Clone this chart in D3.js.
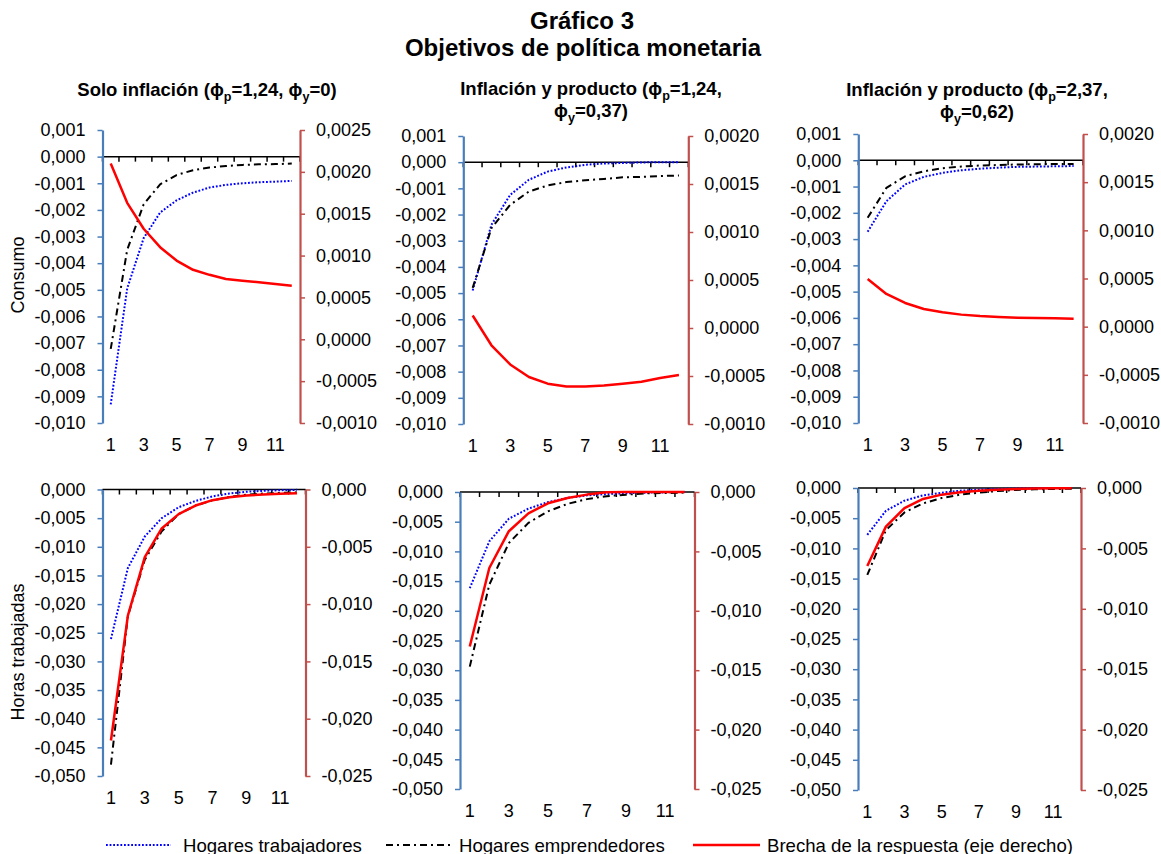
<!DOCTYPE html>
<html>
<head>
<meta charset="utf-8">
<script src="https://cdn.jsdelivr.net/npm/d3@7/dist/d3.min.js"></script>
<style>
  html, body { margin: 0; padding: 0; background: #ffffff; }
  svg { display: block; font-family: "Liberation Sans", Arial, sans-serif; }
</style>
</head>
<body>
<svg id="chart" width="1161" height="854"></svg>
<script>
// ---------------- DATA ----------------
const periods = [1, 2, 3, 4, 5, 6, 7, 8, 9, 10, 11, 12];
const xTickLabels = [1, 3, 5, 7, 9, 11];

const mainTitle = ["Gráfico 3", "Objetivos de política monetaria"];
const rowTitles = ["Consumo", "Horas trabajadas"];
const seriesNames = ["Hogares trabajadores", "Hogares emprendedores", "Brecha de la respuesta (eje derecho)"];

// panel titles: [text, subscript, text, subscript, text] per line
const titleP1 = [[["Solo inflación (ϕ", "p", "=1,24, ϕ", "y", "=0)"]]];
const titleP2 = [[["Inflación y producto (ϕ", "p", "=1,24,"]], [["ϕ", "y", "=0,37)"]]];
const titleP3 = [[["Inflación y producto (ϕ", "p", "=2,37,"]], [["ϕ", "y", "=0,62)"]]];

// tick values
const consLeftTicks = [0.001, 0, -0.001, -0.002, -0.003, -0.004, -0.005, -0.006, -0.007, -0.008, -0.009, -0.010];
const consRightTicksP1 = [0.0025, 0.0020, 0.0015, 0.0010, 0.0005, 0, -0.0005, -0.0010];
const consRightTicks = [0.0020, 0.0015, 0.0010, 0.0005, 0, -0.0005, -0.0010];
const horasLeftTicks = [0, -0.005, -0.010, -0.015, -0.020, -0.025, -0.030, -0.035, -0.040, -0.045, -0.050];
const horasRightTicks = [0, -0.005, -0.010, -0.015, -0.020, -0.025];

// Consumo – Solo inflación
const consTrabP1  = [-0.00930, -0.00495, -0.00306, -0.00210, -0.00164, -0.00135, -0.00116, -0.00106, -0.00100, -0.00096, -0.00094, -0.00091];
const consEmprP1  = [-0.00722, -0.00350, -0.00179, -0.00104, -0.00069, -0.00051, -0.00041, -0.00035, -0.00031, -0.00029, -0.00028, -0.00026];
const consBrechaP1 = [0.00210, 0.00163, 0.00132, 0.00110, 0.00094, 0.00083, 0.00077, 0.00072, 0.00070, 0.00068, 0.00066, 0.00064];
// Consumo – Inflación y producto (1,24; 0,37)
const consTrabP2  = [-0.00490, -0.00239, -0.00125, -0.00067, -0.00036, -0.00020, -0.00010, -0.00005, -0.00003, -0.00001, 0.00000, 0.00000];
const consEmprP2  = [-0.00480, -0.00252, -0.00163, -0.00112, -0.00089, -0.00076, -0.00069, -0.00064, -0.00058, -0.00056, -0.00053, -0.00051];
const consBrechaP2 = [0.00013, -0.00018, -0.00038, -0.00051, -0.00058, -0.00061, -0.00061, -0.00060, -0.00058, -0.00056, -0.00052, -0.00049];
// Consumo – Inflación y producto (2,37; 0,62)
const consTrabP3  = [-0.00272, -0.00156, -0.00092, -0.00063, -0.00048, -0.00038, -0.00032, -0.00028, -0.00025, -0.00024, -0.00023, -0.00022];
const consEmprP3  = [-0.00219, -0.00105, -0.00061, -0.00042, -0.00030, -0.00024, -0.00020, -0.00018, -0.00016, -0.00015, -0.00014, -0.00014];
const consBrechaP3 = [0.000495, 0.00034, 0.000246, 0.000183, 0.000149, 0.000125, 0.00011, 0.00010, 0.000093, 0.00009, 0.000087, 0.000083];
// Horas trabajadas – Solo inflación
const horasTrabP1 = [-0.0261, -0.0137, -0.0082, -0.0050, -0.0031, -0.0020, -0.0012, -0.0007, -0.0004, -0.00023, -0.00012, -0.00006];
const horasEmprP1 = [-0.0480, -0.0221, -0.01227, -0.0073, -0.0043, -0.0028, -0.0019, -0.0013, -0.0009, -0.0007, -0.0006, -0.0005];
const horasBrechaP1 = [-0.0219, -0.0110, -0.0059, -0.0034, -0.00215, -0.0014, -0.00093, -0.00067, -0.00052, -0.00044, -0.00038, -0.00032];
// Horas trabajadas – Inflación y producto (1,24; 0,37)
const horasTrabP2 = [-0.0162, -0.0083, -0.0045, -0.0028, -0.0017, -0.0010, -0.00056, -0.00034, -0.00022, -0.00011, -0.00006, 0.0];
const horasEmprP2 = [-0.0294, -0.0156, -0.0086, -0.0052, -0.00326, -0.0020, -0.0012, -0.0007, -0.00045, -0.00022, -0.00017, -0.0001];
const horasBrechaP2 = [-0.0130, -0.0064, -0.0033, -0.0018, -0.00095, -0.0005, -0.00022, -0.00003, 0.0, 0.0, 0.0, 0.0];
// Horas trabajadas – Inflación y producto (2,37; 0,62)
const horasTrabP3 = [-0.00775, -0.00377, -0.0021, -0.00122, -0.00078, -0.00044, -0.00028, -0.00017, -0.0001, -0.00006, 0.0, 0.0];
const horasEmprP3 = [-0.0144, -0.00698, -0.00404, -0.00255, -0.00166, -0.0011, -0.00078, -0.0005, -0.00033, -0.00022, -0.00017, -0.00011];
const horasBrechaP3 = [-0.00645, -0.0032, -0.00166, -0.00091, -0.00055, -0.00036, -0.00022, -0.00014, -0.00008, -0.00005, -0.00003, -0.00003];

// ---------------- DRAWING ----------------
const svg = d3.select("#chart");
const FONT = 18;
const locale = d3.formatLocale({decimal: ",", thousands: ".", grouping: [3], currency: ["", ""], minus: "-"});
const f3 = locale.format(".3f");
const f4 = locale.format(".4f");

const BLUE_AXIS = "#4a7ebb";
const RED_AXIS = "#c0504d";

const panels = [
  {L: 102.5, R: 300, top: 130, bottom: 423, ld: [-0.010, 0.001], rd: [-0.0010, 0.0025],
   lt: consLeftTicks, rt: consRightTicksP1, lf: f3, rf: f4,
   s: [consTrabP1, consEmprP1, consBrechaP1], title: titleP1, tx: 207, ty: [96]},
  {L: 463.3, R: 688.3, top: 136, bottom: 424, ld: [-0.010, 0.001], rd: [-0.0010, 0.0020],
   lt: consLeftTicks, rt: consRightTicks, lf: f3, rf: f4,
   s: [consTrabP2, consEmprP2, consBrechaP2], title: titleP2, tx: 591, ty: [95, 117]},
  {L: 858.3, R: 1083, top: 134, bottom: 423, ld: [-0.010, 0.001], rd: [-0.0010, 0.0020],
   lt: consLeftTicks, rt: consRightTicks, lf: f3, rf: f4,
   s: [consTrabP3, consEmprP3, consBrechaP3], title: titleP3, tx: 977, ty: [96, 118]},
  {L: 102.5, R: 305.5, top: 489.5, bottom: 776, ld: [-0.050, 0], rd: [-0.025, 0],
   lt: horasLeftTicks, rt: horasRightTicks, lf: f3, rf: f3,
   s: [horasTrabP1, horasEmprP1, horasBrechaP1]},
  {L: 460, R: 694.5, top: 492, bottom: 789, ld: [-0.050, 0], rd: [-0.025, 0],
   lt: horasLeftTicks, rt: horasRightTicks, lf: f3, rf: f3,
   s: [horasTrabP2, horasEmprP2, horasBrechaP2]},
  {L: 858, R: 1081, top: 488, bottom: 790, ld: [-0.050, 0], rd: [-0.025, 0],
   lt: horasLeftTicks, rt: horasRightTicks, lf: f3, rf: f3,
   s: [horasTrabP3, horasEmprP3, horasBrechaP3]}
];

const styles = [
  {stroke: "#0000ff", width: 2, dash: "1.8,1.8"},
  {stroke: "#000000", width: 2, dash: "7,4,2,4"},
  {stroke: "#ff0000", width: 2.5, dash: null}
];

function addTitleLine(sel, x, y, parts, size) {
  const t = sel.append("text").attr("x", x).attr("y", y).attr("text-anchor", "middle")
    .attr("font-size", size).attr("font-weight", "bold").attr("fill", "#000");
  parts.forEach((p, i) => {
    if (i % 2 === 1) {
      t.append("tspan").attr("font-size", size * 0.68).attr("dy", 5).text(p);
    } else {
      const ts = t.append("tspan").text(p);
      if (i > 0) ts.attr("dy", -5);
    }
  });
}

panels.forEach(p => {
  const g = svg.append("g");
  const x = d3.scaleBand().domain(periods).range([p.L, p.R]).paddingInner(0).paddingOuter(0);
  const bw = x.bandwidth();
  const yL = d3.scaleLinear().domain(p.ld).range([p.bottom, p.top]);
  const yR = d3.scaleLinear().domain(p.rd).range([p.bottom, p.top]);
  const y0 = yL(0);

  // category axis at zero
  g.append("line").attr("x1", p.L).attr("x2", p.R).attr("y1", y0).attr("y2", y0)
    .attr("stroke", "#000").attr("stroke-width", 1.5);
  const bounds = periods.map(d => x(d)).concat([p.R]);
  g.selectAll("line.ct").data(bounds).enter().append("line")
    .attr("x1", d => d).attr("x2", d => d).attr("y1", y0).attr("y2", y0 + 5)
    .attr("stroke", "#000").attr("stroke-width", 1.5);

  // x tick labels at bottom
  const xa = g.append("g").attr("transform", `translate(0,${p.bottom})`)
    .call(d3.axisBottom(x).tickValues(xTickLabels).tickSize(0).tickPadding(15));
  xa.select(".domain").remove();
  xa.selectAll("text").attr("font-size", FONT).attr("font-family", null).attr("fill", "#000");

  // left axis
  const la = g.append("g").attr("transform", `translate(${p.L},0)`)
    .call(d3.axisLeft(yL).tickValues(p.lt).tickFormat(p.lf).tickSize(5).tickSizeOuter(0).tickPadding(12));
  la.select(".domain").attr("stroke", BLUE_AXIS).attr("stroke-width", 2.2);
  la.selectAll(".tick line").attr("stroke", BLUE_AXIS).attr("stroke-width", 1.5);
  la.selectAll("text").attr("font-size", FONT).attr("font-family", null).attr("fill", "#000");

  // right axis
  const ra = g.append("g").attr("transform", `translate(${p.R},0)`)
    .call(d3.axisRight(yR).tickValues(p.rt).tickFormat(p.rf).tickSize(5).tickSizeOuter(0).tickPadding(11));
  ra.select(".domain").attr("stroke", RED_AXIS).attr("stroke-width", 2.2);
  ra.selectAll(".tick line").attr("stroke", RED_AXIS).attr("stroke-width", 1.5);
  ra.selectAll("text").attr("font-size", FONT).attr("font-family", null).attr("fill", "#000");

  // series
  p.s.forEach((vals, i) => {
    const yS = i === 2 ? yR : yL;
    const line = d3.line().x((d, j) => x(periods[j]) + bw / 2).y(d => yS(d));
    const path = g.append("path").datum(vals).attr("d", line).attr("fill", "none")
      .attr("stroke", styles[i].stroke).attr("stroke-width", styles[i].width)
      .attr("stroke-linejoin", "round");
    if (styles[i].dash) path.attr("stroke-dasharray", styles[i].dash);
  });

  if (p.title) {
    p.title.forEach((ln, k) => addTitleLine(svg, p.tx, p.ty[k], ln[0], 18.5));
  }
});

// main title
svg.append("text").attr("x", 582).attr("y", 29).attr("text-anchor", "middle")
  .attr("font-size", 24).attr("font-weight", "bold").text(mainTitle[0]);
svg.append("text").attr("x", 583).attr("y", 56).attr("text-anchor", "middle")
  .attr("font-size", 24).attr("font-weight", "bold").text(mainTitle[1]);

// row titles
svg.append("text").attr("transform", "translate(24,275) rotate(-90)").attr("text-anchor", "middle")
  .attr("font-size", FONT).text(rowTitles[0]);
svg.append("text").attr("transform", "translate(24,652) rotate(-90)").attr("text-anchor", "middle")
  .attr("font-size", FONT).text(rowTitles[1]);

// legend
const legendItems = [
  {x1: 106, x2: 171, tx: 183},
  {x1: 386, x2: 452, tx: 459},
  {x1: 693, x2: 760, tx: 767}
];
const ly = 845;
legendItems.forEach((it, i) => {
  const l = svg.append("line").attr("x1", it.x1).attr("x2", it.x2).attr("y1", ly).attr("y2", ly)
    .attr("stroke", styles[i].stroke).attr("stroke-width", styles[i].width);
  if (styles[i].dash) l.attr("stroke-dasharray", styles[i].dash);
  svg.append("text").attr("x", it.tx).attr("y", ly + 6.5).attr("font-size", 18.6).text(seriesNames[i]);
});
</script>
</body>
</html>
